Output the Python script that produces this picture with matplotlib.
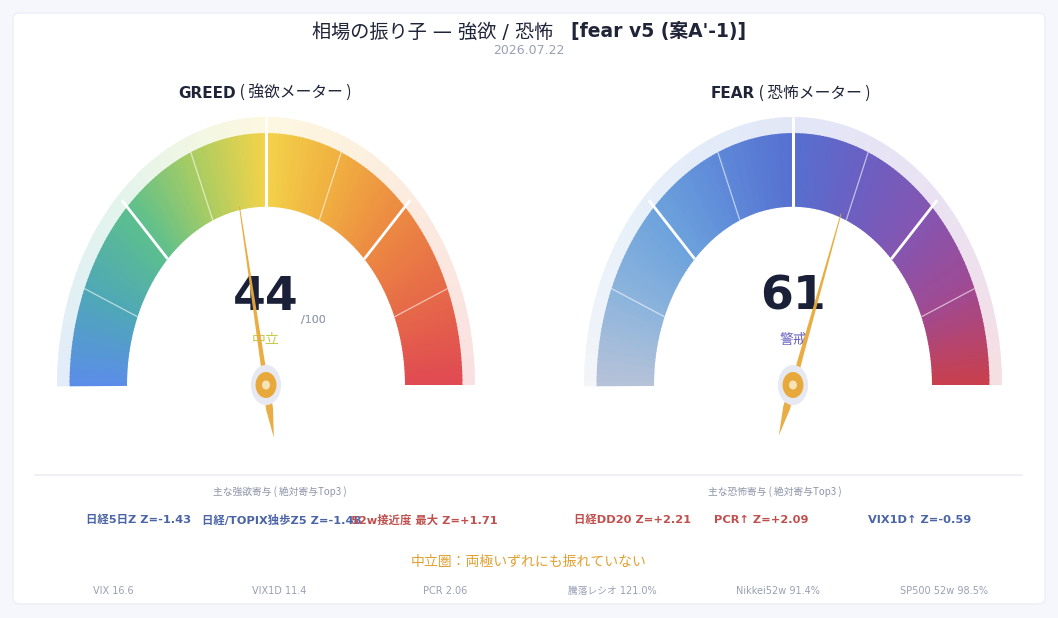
import numpy as np
import matplotlib
matplotlib.use("Agg")
import matplotlib.pyplot as plt
from matplotlib.patches import Wedge, Ellipse, Polygon, FancyBboxPatch
from matplotlib.colors import LinearSegmentedColormap, to_rgb

plt.rcParams['font.family'] = ['DejaVu Sans', 'Noto Sans CJK JP']
CJK_FIRST = ['Noto Sans CJK JP', 'DejaVu Sans']

# -------------------------
# Data
# -------------------------
title_main = "相場の振り子 — 強欲 / 恐怖"
title_tag = "[fear v5 (案A'-1)]"
date_str = "2026.07.22"

gauge_names = ["GREED", "FEAR"]
gauge_subs = [" ( 強欲メーター )", " ( 恐怖メーター )"]
gauge_values = [44, 61]
gauge_states = ["中立", "警戒"]
state_colors = ["#c6c94c", "#6b63c4"]

greed_head = "主な強欲寄与 ( 絶対寄与Top3 )"
fear_head = "主な恐怖寄与 ( 絶対寄与Top3 )"
greed_items = ["日経5日Z Z=-1.43", "日経/TOPIX独歩Z5 Z=-1.48", "52w接近度 最大 Z=+1.71"]
greed_item_colors = ["#4a64a6", "#4a64a6", "#c0504d"]
fear_items = ["日経DD20 Z=+2.21", "PCR↑ Z=+2.09", "VIX1D↑ Z=-0.59"]
fear_item_colors = ["#c0504d", "#c0504d", "#4a64a6"]

status_text = "中立圏：両極いずれにも振れていない"
stats = ["VIX 16.6", "VIX1D 11.4", "PCR 2.06", "騰落レシオ 121.0%", "Nikkei52w 91.4%", "SP500 52w 98.5%"]

greed_cmap = LinearSegmentedColormap.from_list("greed", [
    "#5b8de8", "#4fa8b6", "#5cbf8e", "#a9cc62", "#f3d34a",
    "#f0b040", "#ec8a42", "#e66a48", "#e04a52"])
fear_cmap = LinearSegmentedColormap.from_list("fear", [
    "#b6c2d8", "#8cb4dc", "#6ca2dc", "#5e88d8", "#5670d0",
    "#6a60c2", "#8456b2", "#a04a92", "#c8404e"])
cmaps = [greed_cmap, fear_cmap]

# -------------------------
# Figure
# -------------------------
W, H = 1058, 618
fig = plt.figure(figsize=(W / 100, H / 100), dpi=100)
fig.patch.set_facecolor("#f5f7fc")


def fx(x):
    return x / W


def fy(y):
    return 1 - y / H


card = FancyBboxPatch((fx(13), fy(604)), fx(1045) - fx(13), fy(13) - fy(604),
                      boxstyle="round,pad=0,rounding_size=0.008",
                      transform=fig.transFigure, facecolor="white",
                      edgecolor="#eceff7", linewidth=1, zorder=-5)
fig.patches.append(card)

# title
fig.text(fx(553), fy(32), title_main, ha="right", va="center", fontsize=13.8, color="#1f2438")
fig.text(fx(571), fy(32), title_tag, ha="left", va="center", fontsize=13.5,
         fontweight="bold", color="#1f2438")
fig.text(fx(529), fy(51), date_str, ha="center", va="center", fontsize=9, color="#9aa0b4")

# -------------------------
# Gauges
# -------------------------
centers = [266, 793]
rx, ry, cy = 209, 268, 385
r_in, r_band, r_out = 0.665, 0.94, 1.0
name_right = [236, 755]

for i, cx in enumerate(centers):
    left, right, top, bottom = cx - 219, cx + 219, 110, 450
    ax = fig.add_axes([fx(left), fy(bottom), (right - left) / W, (bottom - top) / H])
    ax.set_xlim((left - cx) / rx, (right - cx) / rx)
    ax.set_ylim((cy - bottom) / ry, (cy - top) / ry)
    ax.axis("off")

    cmap = cmaps[i]
    n = 180
    for k in range(n):
        t1 = 180 - (k + 1) * 180 / n
        t2 = 180 - k * 180 / n
        c = np.array(to_rgb(cmap((k + 0.5) / n)))
        ax.add_patch(Wedge((0, 0), r_band, t1, t2 + 0.3, width=r_band - r_in,
                           facecolor=c, edgecolor="none", zorder=2))
        halo = c * 0.17 + np.ones(3) * 0.83
        ax.add_patch(Wedge((0, 0), r_out, t1, t2 + 0.3, width=r_out - r_band,
                           facecolor=halo, edgecolor="none", zorder=1))

    # segment dividers every 12.5
    for v in np.arange(12.5, 100, 12.5):
        th = np.pi * (1 - v / 100)
        if v == 50:
            r0, r1, lw, a = r_in, r_out, 2.2, 1.0
        elif v in (25, 75):
            r0, r1, lw, a = r_in, 0.975, 2.0, 1.0
        else:
            r0, r1, lw, a = r_in, r_band, 0.9, 0.6
        ax.plot([r0 * np.cos(th), r1 * np.cos(th)], [r0 * np.sin(th), r1 * np.sin(th)],
                color="white", lw=lw, alpha=a, zorder=3, solid_capstyle="butt")

    # value text
    val = gauge_values[i]
    ax.text(0, (cy - 297) / ry, str(val), ha="center", va="center", fontsize=34,
            fontweight="bold", color="#1a2038", zorder=4)
    ax.text((313 - cx) / rx, (cy - 320) / ry, "/100", ha="center", va="center",
            fontsize=8, color="#9aa0b4", zorder=4)
    ax.text(0, (cy - 340) / ry, gauge_states[i], ha="center", va="center",
            fontsize=10, color=state_colors[i], zorder=4, family=CJK_FIRST)

    # needle
    th = np.pi * (1 - val / 100)
    d = np.array([np.cos(th), np.sin(th)])
    p = np.array([-np.sin(th), np.cos(th)])
    pts = [d * 0.68 + p * 0.002, p * 0.012, -d * 0.09 + p * 0.017, -d * 0.2,
           -d * 0.09 - p * 0.017, -p * 0.012, d * 0.68 - p * 0.002]
    ax.add_patch(Polygon(pts, closed=True, facecolor="#e8a93c", edgecolor="none",
                         alpha=0.95, zorder=5))
    ax.add_patch(Ellipse((0, 0), 0.144, 0.15, facecolor="#e6e9f2", edgecolor="none", zorder=6))
    ax.add_patch(Ellipse((0, 0), 0.1, 0.097, facecolor="#e8a93c", edgecolor="none", zorder=7))
    ax.add_patch(Ellipse((0, 0), 0.038, 0.034, facecolor="#f6e3b6", edgecolor="none", zorder=8))

    # gauge heading
    fig.text(fx(name_right[i]), fy(93), gauge_names[i], ha="right", va="center",
             fontsize=11, fontweight="bold", color="#1f2438")
    fig.text(fx(name_right[i]), fy(93), gauge_subs[i], ha="left", va="center",
             fontsize=11.3, color="#1f2438", family=CJK_FIRST)

# -------------------------
# Lower panel
# -------------------------
fig.add_artist(plt.Line2D([fx(35), fx(1022)], [fy(475), fy(475)], color="#eceef4",
                          lw=1.2, transform=fig.transFigure))

fig.text(fx(280), fy(492), greed_head, ha="center", va="center",
         fontsize=7, color="#8e94a8", family=CJK_FIRST)
fig.text(fx(775), fy(492), fear_head, ha="center", va="center",
         fontsize=7, color="#8e94a8", family=CJK_FIRST)

greed_x = [139, 282, 424]
fear_x = [633, 761, 920]
for txt, col, x in zip(greed_items, greed_item_colors, greed_x):
    fig.text(fx(x), fy(520), txt, ha="center", va="center", fontsize=8.2,
             fontweight="bold", color=col)
for txt, col, x in zip(fear_items, fear_item_colors, fear_x):
    fig.text(fx(x), fy(520), txt, ha="center", va="center", fontsize=8.2,
             fontweight="bold", color=col)

fig.text(fx(529), fy(562), status_text, ha="center", va="center", fontsize=10,
         color="#e0a030", family=CJK_FIRST)

for j, s in enumerate(stats):
    fig.text(fx(113 + 166.3 * j), fy(591), s, ha="center", va="center",
             fontsize=7, color="#9aa0b4")

fig.savefig("out.png", dpi=100, facecolor=fig.get_facecolor())
